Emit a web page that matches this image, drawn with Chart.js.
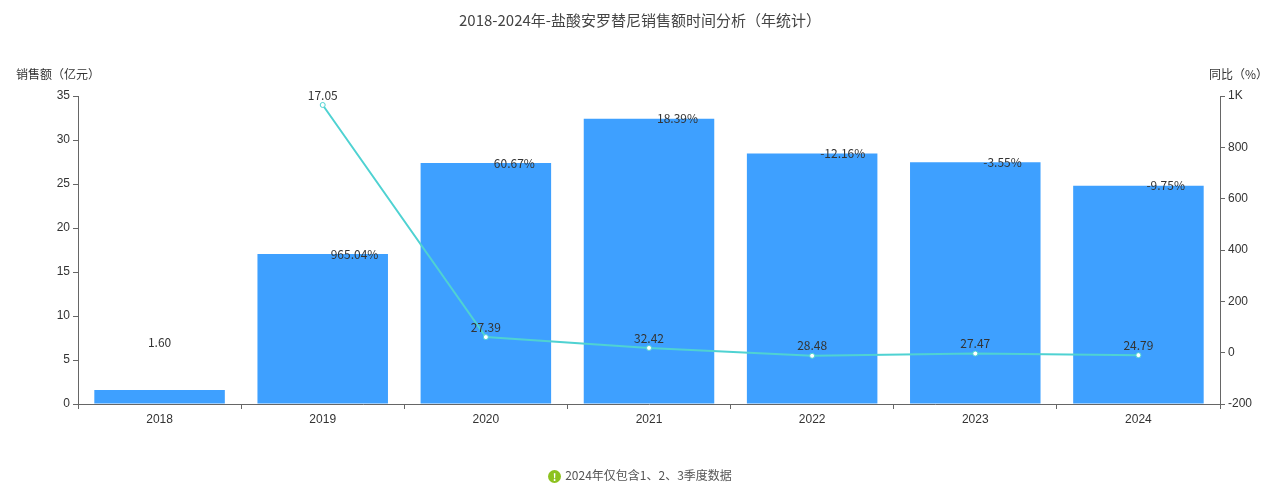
<!DOCTYPE html>
<html><head><meta charset="utf-8">
<script src="https://cdn.jsdelivr.net/npm/chart.js@4"></script>
<style>html,body{margin:0;padding:0;background:#fff;font-family:"Noto Sans CJK SC","Noto Sans",sans-serif}
#wrap{position:relative;width:1280px;height:492px}
#note{position:absolute;left:0;width:1280px;top:466px;text-align:center;font-size:12px;color:#555}
#note span.i{display:inline-block;width:13px;height:13px;border-radius:50%;background:#8dc21f;color:#fff;font-size:10px;line-height:13px;text-align:center;font-weight:bold;margin-right:4px;vertical-align:-1px}
</style></head><body>
<div id="wrap"><canvas id="c" width="1280" height="492"></canvas>
<div id="note"><span class="i">!</span>2024年仅包含1、2、3季度数据</div></div>
<script>
const categories=["2018","2019","2020","2021","2022","2023","2024"];
const sales=[1.60,17.05,27.39,32.42,28.48,27.47,24.79];
const yoy=[null,965.04,60.67,18.39,-12.16,-3.55,-9.75];
const leftTicks=[0,5,10,15,20,25,30,35];
const rightTicks=[-200,0,200,400,600,800,1000];
const labelPlugin={id:'lbl',afterDatasetsDraw(ch){
 const ctx=ch.ctx;ctx.save();ctx.font='12px "Noto Sans CJK SC",sans-serif';ctx.fillStyle='#333';
 ch.getDatasetMeta(0).data.forEach((b,i)=>{ctx.textAlign='center';ctx.textBaseline='bottom';ctx.fillText(sales[i].toFixed(2),b.x,b.y-4);});
 ch.getDatasetMeta(1).data.forEach((p,i)=>{if(yoy[i]==null)return;ctx.textAlign='left';ctx.textBaseline='middle';ctx.fillText(yoy[i].toFixed(2)+'%',p.x+8,p.y);});
 ctx.fillStyle='#444';ctx.font='15px "Noto Sans CJK SC",sans-serif';ctx.textAlign='center';ctx.textBaseline='middle';
 ctx.fillText('2018-2024年-盐酸安罗替尼销售额时间分析（年统计）',640,20);
 ctx.font='12px "Noto Sans CJK SC",sans-serif';ctx.fillStyle='#333';
 ctx.textAlign='left';ctx.fillText('销售额（亿元）',16,74);
 ctx.textAlign='right';ctx.fillText('同比（%）',1268,74);
 ctx.restore();}};
new Chart(document.getElementById('c'),{
 data:{labels:categories,datasets:[
  {type:'line',data:yoy,yAxisID:'y1',borderColor:'#4fd2d2',borderWidth:2,pointRadius:2.5,pointBackgroundColor:'#fff',pointBorderColor:'#4fd2d2',pointBorderWidth:1,tension:0,order:0},
  {type:'bar',data:sales,yAxisID:'y',backgroundColor:'#3ea0ff',barPercentage:0.8,categoryPercentage:1,order:1}
 ]},
 options:{responsive:false,animation:false,layout:{padding:{top:96,left:0,right:0,bottom:0}},
  plugins:{legend:{display:false},tooltip:{enabled:false}},
  scales:{
   x:{grid:{display:true,drawOnChartArea:false,offset:true,color:'#666',tickLength:5},border:{color:'#666'},
      ticks:{color:'#333',font:{size:12}},afterFit(s){s.height=88;}},
   y:{position:'left',min:0,max:35,afterBuildTicks(s){s.ticks=leftTicks.map(v=>({value:v}));},
      grid:{drawOnChartArea:false,color:'#666',tickLength:5},border:{color:'#666'},
      ticks:{color:'#333',font:{size:12}},afterFit(s){s.width=78;}},
   y1:{position:'right',min:-200,max:1000,afterBuildTicks(s){s.ticks=rightTicks.map(v=>({value:v}));},
      grid:{drawOnChartArea:false,color:'#666',tickLength:5},border:{color:'#666'},
      ticks:{color:'#333',font:{size:12},callback:v=>v===1000?'1K':v},afterFit(s){s.width=60;}}
  }},
 plugins:[labelPlugin]});
</script></body></html>
